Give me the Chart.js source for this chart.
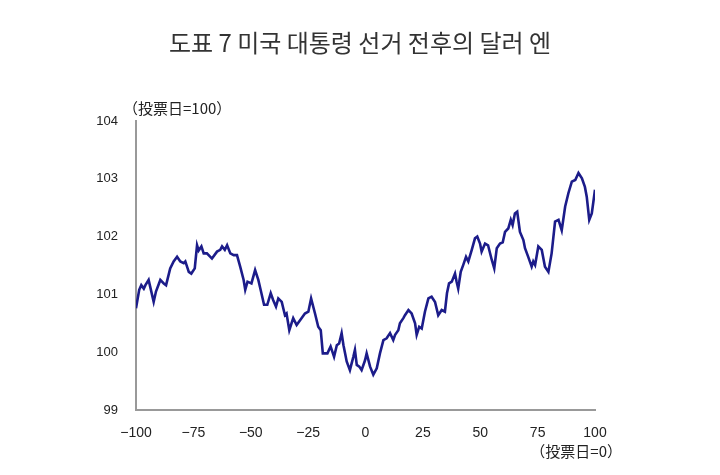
<!DOCTYPE html>
<html>
<head>
    <meta charset="utf-8">
    <title>도표 7 미국 대통령 선거 전후의 달러 엔</title>
    <script src="https://cdn.jsdelivr.net/npm/chart.js@4.4.1/dist/chart.umd.min.js"></script>
    <style>
        html, body { margin: 0; padding: 0; background: #fff; }
        #box { width: 720px; height: 475px; }
    </style>
</head>
<body>
<div id="box"><canvas id="myChart" width="720" height="475"></canvas></div>

<script>
    // 투표일 기준 경과일 (投票日=0)
    let days = [
        -100, -98.6, -97.7, -96.6, -95.9, -94.5, -93.8, -92.3, -91.3, -89.4,
        -87.9, -86.9, -85.1, -83.6, -82.1, -80.7, -79.2, -78.5, -77.0, -75.9,
        -74.4, -73.4, -72.7, -71.5, -70.5, -69.1, -66.9, -64.7, -63.3, -62.5,
        -61.3, -60.3, -58.9, -57.4, -56.0, -54.6, -53.1, -52.4, -51.4, -49.7,
        -48.1, -46.7, -45.7, -44.2, -42.8, -41.3, -40.2, -39.0, -38.0, -36.5,
        -35.1, -34.4, -33.2, -31.5, -30.0, -27.8, -26.4, -24.9, -23.7, -22.0,
        -20.6, -19.5, -18.6, -16.6, -15.2, -13.7, -12.5, -11.5, -10.4, -9.6,
        -8.9, -8.2, -6.8, -5.3, -4.6, -3.8, -2.7, -1.7, -0.2, 0.5,
        2.0, 3.4, 4.9, 6.3, 7.8, 9.2, 10.7, 12.1, 12.9, 14.3,
        15.0, 16.5, 17.2, 18.7, 20.1, 21.6, 22.3, 23.4, 24.5, 25.9,
        27.4, 28.8, 30.3, 31.7, 33.2, 34.6, 35.5, 36.4, 37.6, 39.0,
        39.7, 40.4, 41.5, 42.6, 43.8, 44.8, 46.3, 47.7, 48.7, 49.9,
        50.6, 52.1, 53.4, 55.0, 56.1, 57.2, 58.6, 59.8, 60.8, 62.2,
        63.3, 64.1, 65.1, 66.1, 67.3, 68.8, 69.5, 70.9, 72.4, 73.1,
        73.9, 75.3, 76.8, 78.2, 79.7, 81.1, 82.6, 84.1, 85.5, 87.0,
        88.4, 89.9, 91.4, 92.8, 94.3, 95.6, 96.4, 97.5, 98.6, 100
    ];
    // 달러 엔 (投票日=100)
    let values = [
        100.76, 101.08, 101.16, 101.10, 101.16, 101.25, 101.13, 100.87, 101.05, 101.25,
        101.19, 101.16, 101.45, 101.57, 101.65, 101.57, 101.54, 101.57, 101.39, 101.36,
        101.45, 101.85, 101.76, 101.83, 101.71, 101.71, 101.62, 101.74, 101.77, 101.83,
        101.77, 101.85, 101.71, 101.68, 101.68, 101.48, 101.25, 101.08, 101.22, 101.19,
        101.42, 101.25, 101.08, 100.82, 100.82, 101.02, 100.90, 100.79, 100.93, 100.87,
        100.64, 100.67, 100.38, 100.59, 100.47, 100.59, 100.67, 100.70, 100.93, 100.67,
        100.44, 100.38, 99.98, 99.98, 100.10, 99.92, 100.12, 100.15, 100.33, 100.12,
        99.98, 99.84, 99.69, 99.92, 100.04, 99.78, 99.75, 99.69, 99.86, 99.98,
        99.75, 99.61, 99.72, 99.98, 100.21, 100.24, 100.33, 100.21, 100.30, 100.38,
        100.50, 100.59, 100.64, 100.73, 100.67, 100.50, 100.30, 100.44, 100.41, 100.70,
        100.93, 100.96, 100.87, 100.64, 100.73, 100.70, 101.02, 101.19, 101.22, 101.36,
        101.22, 101.10, 101.39, 101.51, 101.65, 101.57, 101.77, 101.97, 102.00, 101.88,
        101.74, 101.88, 101.85, 101.60, 101.45, 101.80, 101.88, 101.90, 102.08, 102.14,
        102.29, 102.20, 102.40, 102.43, 102.08, 101.94, 101.80, 101.65, 101.48, 101.57,
        101.51, 101.83, 101.77, 101.48, 101.39, 101.71, 102.26, 102.29, 102.11, 102.52,
        102.75, 102.95, 102.98, 103.10, 103.01, 102.86, 102.69, 102.29, 102.40, 102.81
    ];
    let xTicks = [-100, -75, -50, -25, 0, 25, 50, 75, 100];
    let yTicks = [99, 100, 101, 102, 103, 104];

    let titleText = "도표 7 미국 대통령 선거 전후의 달러 엔";
    let yUnitText = "（投票日=100）";
    let xUnitText = "（投票日=0）";

    let points = days.map((d, i) => ({ x: d, y: values[i] }));

    // 제목과 축 단위 문자
    const textPlugin = {
        id: 'texts',
        afterDraw(chart) {
            const c = chart.ctx;
            const area = chart.chartArea;
            c.save();
            c.fillStyle = '#333';
            c.textBaseline = 'middle';
            c.font = '24px "Noto Sans CJK KR"';
            c.textAlign = 'center';
            c.fillText(titleText, 360, 43);
            c.fillStyle = '#222';
            c.font = '15px "Noto Sans CJK JP"';
            c.textAlign = 'left';
            c.fillText(yUnitText, area.left - 13, 108);
            c.textAlign = 'right';
            c.fillText(xUnitText, area.right + 27, 451);
            c.restore();
        }
    };

    const ctx = document.getElementById('myChart').getContext('2d');
    const myChart = new Chart(ctx, {
        type: 'line',
        data: {
            datasets: [{
                data: points,
                borderColor: '#1c1c8a',
                borderWidth: 2.6,
                pointRadius: 0,
                tension: 0,
                fill: false
            }]
        },
        options: {
            responsive: false,
            animation: false,
            layout: { padding: { top: 121, left: 0, right: 125, bottom: 25 } },
            plugins: {
                legend: { display: false },
                title: { display: false },
                tooltip: { enabled: false }
            },
            scales: {
                x: {
                    type: 'linear',
                    min: -100,
                    max: 100,
                    afterFit(scale) { scale.height = 40; },
                    afterBuildTicks(scale) { scale.ticks = xTicks.map(v => ({ value: v })); },
                    grid: { display: false, drawTicks: false },
                    border: { color: '#999', width: 2 },
                    ticks: {
                        padding: 15,
                        color: '#222',
                        font: { family: 'Liberation Sans', size: 14 },
                        callback: v => String(v).replace('-', '\u2212')
                    }
                },
                y: {
                    min: 99,
                    max: 104,
                    afterFit(scale) { scale.width = 136; },
                    afterBuildTicks(scale) { scale.ticks = yTicks.map(v => ({ value: v })); },
                    grid: { display: false, drawTicks: false },
                    border: { color: '#999', width: 2 },
                    ticks: {
                        padding: 18,
                        color: '#222',
                        font: { family: 'Liberation Sans', size: 13 }
                    }
                }
            }
        },
        plugins: [textPlugin]
    });
</script>
</body>
</html>
